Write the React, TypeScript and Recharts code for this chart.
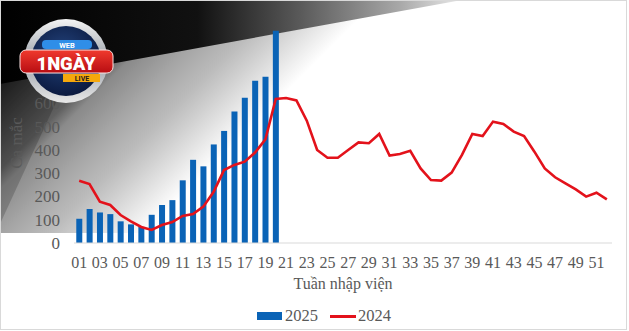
import React from 'react';
import {
  Bar,
  ComposedChart,
  Label,
  Legend,
  Line,
  XAxis,
  YAxis,
} from 'recharts';

const weeks = [
  '01', '02', '03', '04', '05', '06', '07', '08', '09', '10',
  '11', '12', '13', '14', '15', '16', '17', '18', '19', '20',
  '21', '22', '23', '24', '25', '26', '27', '28', '29', '30',
  '31', '32', '33', '34', '35', '36', '37', '38', '39', '40',
  '41', '42', '43', '44', '45', '46', '47', '48', '49', '50',
  '51', '52',
];

// 2025: only the first 20 weeks so far
const cases2025 = [
  104, 146, 131, 124, 93, 80, 69, 121, 163, 184,
  269, 357, 329, 423, 481, 564, 623, 696, 713, 911,
];

const cases2024 = [
  267, 253, 177, 163, 120, 93, 69, 56, 77, 90,
  116, 124, 156, 220, 313, 335, 349, 388, 445, 618,
  622, 612, 525, 399, 366, 366, 399, 432, 428, 468,
  375, 382, 396, 320, 270, 268, 302, 378, 468, 459,
  521, 511, 478, 459, 392, 320, 282, 256, 230, 199,
  216, 187,
];

// 700-900 sit under the watermark logo in the source, so only these show
const yTicks = [0, 100, 200, 300, 400, 500, 600];

const seriesNames = ['2025', '2024'];

const FONT = '"Liberation Serif", "Times New Roman", Times, serif';
const TEXT_GREY = '#595959';
const BAR_BLUE = '#0a63b6';
const LINE_RED = '#e3121b';

const data = weeks.map((week, i) => ({
  week,
  y2025: i < cases2025.length ? cases2025[i] : null,
  y2024: cases2024[i],
}));

const LegendContent = () => (
  <div
    style={{
      display: 'flex',
      alignItems: 'center',
      height: 20,
      fontFamily: FONT,
      fontSize: 16.5,
      color: TEXT_GREY,
    }}
  >
    <span style={{ width: 25, height: 8, background: BAR_BLUE, marginRight: 3 }} />
    <span style={{ marginRight: 12 }}>{seriesNames[0]}</span>
    <span style={{ width: 26, height: 3, background: LINE_RED, marginRight: 2 }} />
    <span>{seriesNames[1]}</span>
  </div>
);

const Backdrop = () => (
  <svg width={629} height={331} style={{ position: 'absolute', left: 0, top: 0 }}>
    <defs>
      <linearGradient id='darkTop' gradientUnits='userSpaceOnUse' x1={0} y1={0} x2={470} y2={0}>
        <stop offset='0' stopColor='#000' />
        <stop offset='0.42' stopColor='#111' />
        <stop offset='0.64' stopColor='#5a5a5a' />
        <stop offset='0.85' stopColor='#a8a8a8' />
        <stop offset='1' stopColor='#f2f2f2' />
      </linearGradient>
      <linearGradient id='beam' gradientUnits='userSpaceOnUse' x1={0} y1={0} x2={220} y2={220}>
        <stop offset='0.19' stopColor='#222' />
        <stop offset='0.386' stopColor='#606060' />
        <stop offset='0.43' stopColor='#8a8a8a' />
        <stop offset='0.55' stopColor='#a8a8a8' />
        <stop offset='0.64' stopColor='#bbbbbb' />
        <stop offset='0.71' stopColor='#d0d0d0' />
        <stop offset='0.86' stopColor='#ffffff' />
      </linearGradient>
    </defs>
    <rect x={0} y={0} width={629} height={331} fill='#fff' />
    <polygon points='0,83 460,0 629,0 629,233 0,233' fill='url(#beam)' />
    <polygon points='0,83 70,72 0,224' fill='#000' opacity={0.18} />
    <polygon points='0,0 462,0 0,84' fill='url(#darkTop)' />
    <rect x={0.5} y={0.5} width={626} height={329} fill='none' stroke='#d9d9d9' />
  </svg>
);

const Logo = () => (
  <svg width={130} height={110} style={{ position: 'absolute', left: 0, top: 0 }}>
    <defs>
      <linearGradient id='ring' x1='0' y1='0' x2='0' y2='1'>
        <stop offset='0' stopColor='#f4f4f4' />
        <stop offset='0.5' stopColor='#9aa0a8' />
        <stop offset='1' stopColor='#e8e8e8' />
      </linearGradient>
      <radialGradient id='globe' cx='0.45' cy='0.4' r='0.6'>
        <stop offset='0' stopColor='#24457f' />
        <stop offset='1' stopColor='#0b1a40' />
      </radialGradient>
      <linearGradient id='redBand' x1='0' y1='0' x2='0' y2='1'>
        <stop offset='0' stopColor='#f03a2e' />
        <stop offset='1' stopColor='#b80d12' />
      </linearGradient>
    </defs>
    <circle cx={66} cy={61} r={42} fill='url(#ring)' />
    <circle cx={66} cy={61} r={35} fill='url(#globe)' />
    <rect x={42} y={40} width={50} height={9} rx={4} fill='#2f8ee8' />
    <text x={67} y={47.5} textAnchor='middle' fill='#fff' fontSize={7.5} fontWeight={700} fontFamily='Roboto, sans-serif'>
      WEB
    </text>
    <rect x={20} y={50} width={93} height={23} rx={6} fill='url(#redBand)' stroke='#fbe3e3' strokeWidth={1} />
    <text x={66} y={70} textAnchor='middle' fill='#fff' fontSize={18.5} fontWeight={900} fontFamily='Roboto, sans-serif'>
      1NGÀY
    </text>
    <rect x={63} y={74} width={37} height={8} fill='#f6a80c' />
    <text x={82} y={81} textAnchor='middle' fill='#1b1b1b' fontSize={7} fontWeight={700} fontFamily='Roboto, sans-serif'>
      LIVE
    </text>
  </svg>
);

const YTitle = () => (
  <text
    x={22}
    y={143}
    transform='rotate(-90, 22, 143)'
    textAnchor='middle'
    fill={TEXT_GREY}
    fontSize={17}
    fontFamily={FONT}
  >
    Ca mắc
  </text>
);

export default function App() {
  return (
    <div style={{ position: 'absolute', left: 0, top: 0, width: 629, height: 331, fontFamily: FONT }}>
      <Backdrop />
      <div style={{ position: 'absolute', left: 0, top: 0 }}>
        <ComposedChart
          width={629}
          height={331}
          data={data}
          margin={{ top: 10, right: 17, left: 0, bottom: 38 }}
          barCategoryGap='22%'
        >
          <XAxis
            dataKey='week'
            interval={1}
            height={30}
            tickSize={0}
            tickMargin={14}
            tickLine={false}
            axisLine={{ stroke: '#d9d9d9' }}
            tick={{ fill: TEXT_GREY, fontSize: 16, fontFamily: FONT }}
          >
            <Label
              value='Tuần nhập viện'
              position='bottom'
              offset={5}
              fill={TEXT_GREY}
              fontSize={16}
              fontFamily={FONT}
            />
          </XAxis>
          <YAxis
            width={74}
            domain={[0, 1000]}
            ticks={yTicks}
            interval={0}
            tickSize={0}
            tickMargin={14}
            tickLine={false}
            axisLine={false}
            tick={{ fill: TEXT_GREY, fontSize: 17, fontFamily: FONT }}
          >
            <Label content={<YTitle />} />
          </YAxis>
          <Legend
            verticalAlign='bottom'
            content={<LegendContent />}
            wrapperStyle={{ position: 'absolute', left: 257, top: 306, width: 'auto' }}
          />
          <Bar
            dataKey='y2025'
            name={seriesNames[0]}
            fill={BAR_BLUE}
            isAnimationActive={false}
          />
          <Line
            dataKey='y2024'
            name={seriesNames[1]}
            type='linear'
            stroke={LINE_RED}
            strokeWidth={2.6}
            dot={false}
            isAnimationActive={false}
          />
        </ComposedChart>
      </div>
      <Logo />
    </div>
  );
}
